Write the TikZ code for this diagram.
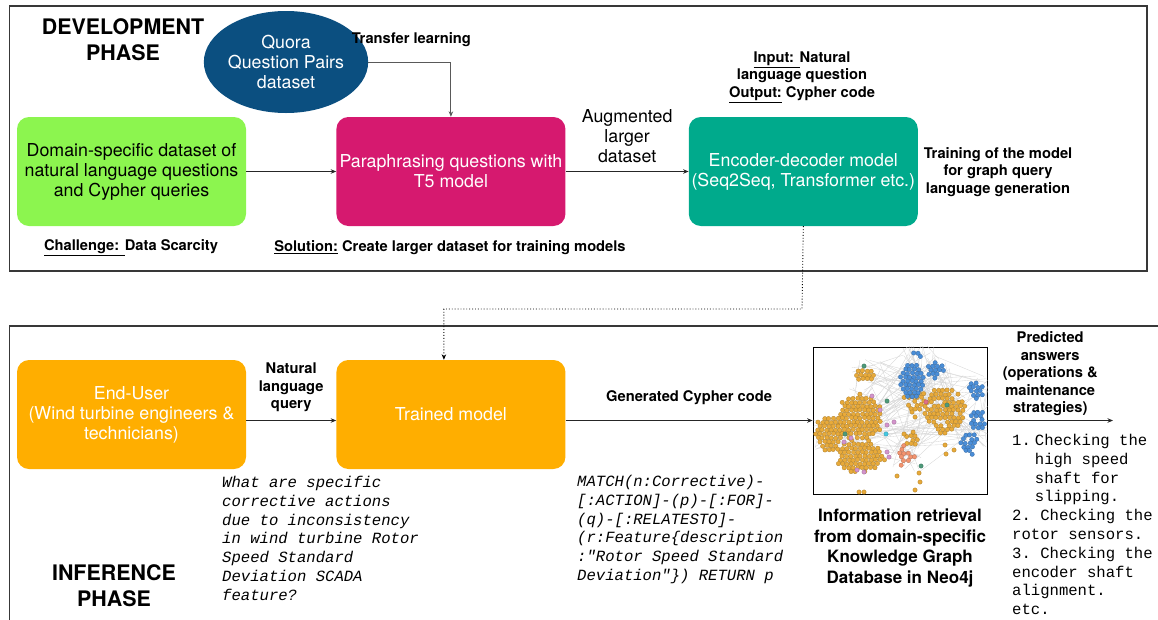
\documentclass[tikz,border=0pt]{standalone}
\usepackage{fontspec}
\setmainfont{TeX Gyre Heros}
\setmonofont{Liberation Mono}
\usepackage{xcolor}
\usetikzlibrary{arrows.meta,positioning,calc,shapes.geometric}

\definecolor{limeg}{HTML}{8CF54F}
\definecolor{magp}{HTML}{D6196F}
\definecolor{tealg}{HTML}{00AA8C}
\definecolor{ambr}{HTML}{FFAE00}
\definecolor{navyq}{HTML}{0B4F80}
\definecolor{kgo}{HTML}{E8AA3A}
\definecolor{kgb}{HTML}{4A8ED8}
\definecolor{kgp}{HTML}{D494CC}
\definecolor{kgs}{HTML}{F2936E}
\definecolor{kgg}{HTML}{4E9A7A}
\definecolor{kgc}{HTML}{45C8E2}
\definecolor{kgr}{HTML}{E0708A}

\begin{document}
\begin{tikzpicture}[x=1pt,y=-1pt,>={Stealth[length=5.5pt,width=4.5pt]},
  stagebox/.style={rounded corners=12pt,minimum width=229pt,minimum height=109pt,inner xsep=0pt,align=center,text=white,font=\fontsize{17.8}{20}\selectfont},
  notelbl/.style={align=center,inner sep=1pt,font=\bfseries\fontsize{14.7}{17.5}\selectfont},
  phaselbl/.style={align=center,inner sep=0pt,font=\bfseries\fontsize{21.4}{26}\selectfont},
  codetxt/.style={align=left,inner sep=0pt,anchor=north west,font=\ttfamily\fontsize{15.6}{18.8}\selectfont},
  flowarrow/.style={->,draw=black!85,line width=0.9pt},
  phaseframe/.style={draw=black!78,line width=1.5pt},
  kgedge/.style={draw=black!16,line width=0.35pt},
  kgdot/.style={line width=0.3pt}]
\useasboundingbox (0,0) rectangle (1158,619);
\clip (0,0) rectangle (1158,619);
\draw[phaseframe] (9.5,6) rectangle (1147,271);
\draw[phaseframe] (9.5,326) rectangle (1170,640);

% development phase
\node[phaselbl] (devtitle) at (123,40) {DEVELOPMENT\\PHASE};
\node[ellipse,fill=navyq,text=white,minimum width=124pt,minimum height=102pt,inner sep=0pt,align=center,font=\fontsize{17.8}{20}\selectfont] (quora) at (286,62) {Quora\\Question Pairs\\dataset};
\node[stagebox,fill=limeg,text=black] (domain) at (131.5,171.5) {Domain-specific dataset of\\natural language questions\\and Cypher queries};
\node[stagebox,fill=magp,right=90pt of domain] (para) {Paraphrasing questions with\\T5 model};
\node[stagebox,fill=tealg,right=123pt of para] (encdec) {Encoder-decoder model\\(Seq2Seq, Transformer etc.)};
\node[notelbl] (iolbl) at (802,77) {\underline{Input: }Natural\\language question\\\underline{Output:} Cypher code};
\node[notelbl] (trainlbl) at (998,172) {Training of the model\\for graph query\\language generation};
\node[notelbl] (challenge) at (131,248) {\underline{Challenge: }Data Scarcity};
\node[notelbl] (solution) at (450,248) {\underline{Solution:} Create larger dataset for training models};
\draw[flowarrow,draw=black!65] (quora.east) -| node[pos=0.26,above=14pt,notelbl] (tlbl) {Transfer learning} (para.north);
\draw[flowarrow] (domain) -- (para);
\draw[flowarrow] (para) -- node[above=7pt,align=center,inner sep=1pt,font=\fontsize{17.8}{20}\selectfont] (auglbl) {Augmented\\larger\\dataset} (encdec);

% inference phase
\node[phaselbl] (inftitle) at (114,586) {INFERENCE\\PHASE};
\node[stagebox,fill=ambr] (enduser) at (131.5,414.5) {End-User\\(Wind turbine engineers \&\\technicians)};
\node[stagebox,fill=ambr,right=90pt of enduser] (trained) {Trained model};
\node[draw=black,line width=0.8pt,minimum width=174pt,minimum height=147pt,inner sep=0pt] (kg) at (900,420.5) {};
\node[below=14pt of kg,align=center,inner sep=0pt,font=\bfseries\fontsize{17}{20.8}\selectfont] (kgcap) {Information retrieval\\from domain-specific\\Knowledge Graph\\Database in Neo4j};
\coordinate (ans) at (1113,420.5);
\coordinate (drop) at (802,309);
\draw[->,dotted,line width=0.9pt] (encdec.south) -- (drop) -| ([xshift=-7pt]trained.north);
\draw[flowarrow] ([yshift=-6pt]enduser.east) -- node[above=7pt,notelbl] (nlq) {Natural\\language\\query} ([yshift=-6pt]trained.west);
\draw[flowarrow] ([yshift=-6pt]trained.east) -- node[above=14pt,notelbl] (gcc) {Generated Cypher code} (kg.west);
\draw[flowarrow] (kg.east) -- node[above=3pt,notelbl] (pred) {Predicted\\answers\\(operations \&\\maintenance\\strategies)} (ans);

\node[codetxt,font=\ttfamily\itshape\fontsize{15.6}{18.8}\selectfont] (question) at (222,476) {What are specific\\corrective actions\\due to inconsistency\\in wind turbine Rotor\\Speed Standard\\Deviation SCADA\\feature?};
\node[codetxt,font=\ttfamily\itshape\fontsize{15.6}{18.8}\selectfont] (cypher) at (577,475) {MATCH(n:Corrective)-\\{}[:ACTION]-(p)-[:FOR]-\\(q)-[:RELATESTO]-\\(r:Feature\{description\\:"Rotor Speed Standard\\Deviation"\}) RETURN p};
\node[codetxt] (answers) at (1012,434) {\makebox[22.7pt][l]{1.}Checking the\\\hspace*{22.7pt}high speed\\\hspace*{22.7pt}shaft for\\\hspace*{22.7pt}slipping.\\2. Checking the\\rotor sensors.\\3. Checking the\\encoder shaft\\alignment.\\etc.};

% knowledge graph snapshot
\begin{scope}
\clip (kg.south west) rectangle (kg.north east);
\pgfmathsetseed{17}
\foreach \i in {1,...,160}{
  \pgfmathtruncatemacro\ha{int(rnd*11)}
  \pgfmathtruncatemacro\hb{int(rnd*11)}
  \pgfmathsetmacro\ax{{860,829,865,945,915,912,935,976,973,906,918}[\ha]+rand*16}
  \pgfmathsetmacro\ay{{430,434,375,410,401,381,370,391,432,457,353}[\ha]+rand*16}
  \pgfmathsetmacro\bx{{860,829,865,945,915,912,935,976,973,906,918}[\hb]+rand*16}
  \pgfmathsetmacro\by{{430,434,375,410,401,381,370,391,432,457,353}[\hb]+rand*16}
  \draw[kgedge] (\ax,\ay) -- (\bx,\by);
}
\foreach \cx/\cy/\rx/\ry/\dens/\c in {860/418/23/23/1/kgo, 860/456/24/17/1/kgo, 829/434/14/18/1/kgo, 865/375/10/7/1/kgo, 945/410/21/24/0.9/kgo, 915/401/11/12/0.75/kgo, 913/440/8/9/0.5/kgo, 906/457/10/13/0.55/kgs, 912/381/13/18/1/kgb, 918/353/5/4/1/kgb, 935/370/8/8/1/kgb, 976/391/8/9/1/kgb, 978/420/8/12/0.9/kgb, 970/443/9/12/0.9/kgb}{
  \pgfmathtruncatemacro\nx{\rx/4.4+1}
  \pgfmathtruncatemacro\ny{\ry/3.9+1}
  \foreach \j in {-\ny,...,\ny}{
    \foreach \k in {-\nx,...,\nx}{
      \pgfmathsetmacro\px{\cx+4.4*\k+2.2*mod(abs(\j),2)+rand*0.5}
      \pgfmathsetmacro\py{\cy+3.9*\j+rand*0.5}
      \pgfmathsetmacro\keep{((\px-\cx)/\rx)^2+((\py-\cy)/\ry)^2-0.8-0.35*rnd+(rnd>\dens)*5}
      \ifdim\keep pt<0pt
        \filldraw[kgdot,fill=\c,draw=\c!75!black] (\px,\py) circle (2.2pt);
      \fi
    }
  }
}
\foreach \px/\py/\c in {864/366/kgg, 887/401/kgg, 947/405/kgg, 921/466/kgg, 845/434/kgg, 886/434/kgc, 926/402/kgr, 872/396/kgp, 880/410/kgp, 887/425/kgp, 894/422/kgp, 844/442/kgp, 851/438/kgp, 887/452/kgp, 889/457/kgp, 857/470/kgp, 864/472/kgp, 912/412/kgo, 915/417/kgo, 904/434/kgo, 945/445/kgo, 946/454/kgo, 954/450/kgo, 897/476/kgo, 919/473/kgo, 920/482/kgo, 915/490/kgo, 859/492/kgo, 864/492/kgo}{
  \filldraw[kgdot,fill=\c,draw=\c!75!black] (\px,\py) circle (2.2pt);
}
\end{scope}
\end{tikzpicture}
\end{document}
